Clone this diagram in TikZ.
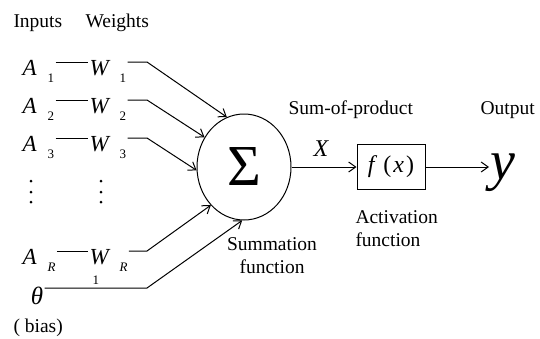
\documentclass[tikz,border=0pt]{standalone}
\usepackage{fontspec}
\setmainfont{Liberation Serif}
\usetikzlibrary{arrows.meta,positioning,shapes.geometric}

\begin{document}
\begin{tikzpicture}[x=1pt,y=-1pt,>={Straight Barb[length=7pt,width=10pt]},line width=1pt,
 lbl/.style={font=\fontsize{19.5}{23}\selectfont,inner sep=0pt},
 var/.style={font=\fontsize{23}{24}\selectfont\itshape,inner sep=1pt,anchor=base west},
 idx/.style={font=\fontsize{13}{14}\selectfont,inner sep=1pt,anchor=base west}]
\useasboundingbox (0,0) rectangle (540,338);

% headings
\node[lbl,anchor=base west] (inputs) at (13,27) {Inputs};
\node[lbl,anchor=base west] (weights) at (85,27) {Weights};

% summation unit
\node[draw,ellipse,minimum width=94,minimum height=106,inner sep=0pt,
 font=\fontsize{58}{58}\selectfont] (sum) at (244,167) {Σ};

% input rows
\foreach \i/\y/\s/\ang in {1/62/1/109,2/100/2/143,3/138/3/184,R/251/\textit{R}/229} {
 \coordinate (r\i) at (0,\y);
 \coordinate (k\i) at (147,\y);
 \node[var] (A\i) at (21,\y+13) {A};
 \node[idx] (a\i) at (46,\y+20) {\s};
 \node[var] (W\i) at (88,\y+13) {W};
 \node[idx] (w\i) at (118,\y+20) {\s};
 \draw (a\i.east |- r\i) -- (W\i.west |- r\i);
 \draw[->] (w\i.east |- r\i) -- (k\i) -- (sum.\ang);
}
\foreach \x in {31,101} \foreach \y in {181,192,202} \fill (\x,\y) circle (1.5);

% bias
\coordinate (rb) at (0,288);
\coordinate (kb) at (147,288);
\node[var,anchor=center,font=\fontsize{25}{25}\selectfont\itshape] (th) at (37,296) {θ};
\draw[->] (th.east |- rb) -- node[idx,anchor=south,yshift=2pt] (one) {1} (kb) -- (sum.268);
\node[lbl,anchor=base west] (bias) at (13,332) {( bias)};

% activation and output
\node[draw,minimum width=68,minimum height=45,inner sep=0pt,
 font=\fontsize{24}{24}\selectfont] (act) at (391,167)
 {\textit{f}\hspace{6pt}(\hspace{2pt}\textit{x}\hspace{2pt})};
\draw[->] (sum.east) -- (act.west);
\node[var,anchor=center,font=\fontsize{24}{24}\selectfont\itshape] (xl) at (321,149) {X};
\node[var,anchor=west,font=\fontsize{56}{56}\selectfont\itshape] (out) at (489,173) {y};
\draw[->] (act.east) -- (act.east -| out.west);

% labels
\node[lbl,anchor=base west] (sop) at (288,114) {Sum-of-product};
\node[lbl,anchor=base west] (outl) at (480,114) {Output};
\node[lbl,align=center,anchor=north] (suml) at (272,237) {Summation\\function};
\node[lbl,align=left,anchor=north west] (actl) at (355,210) {Activation\\function};
\end{tikzpicture}
\end{document}
